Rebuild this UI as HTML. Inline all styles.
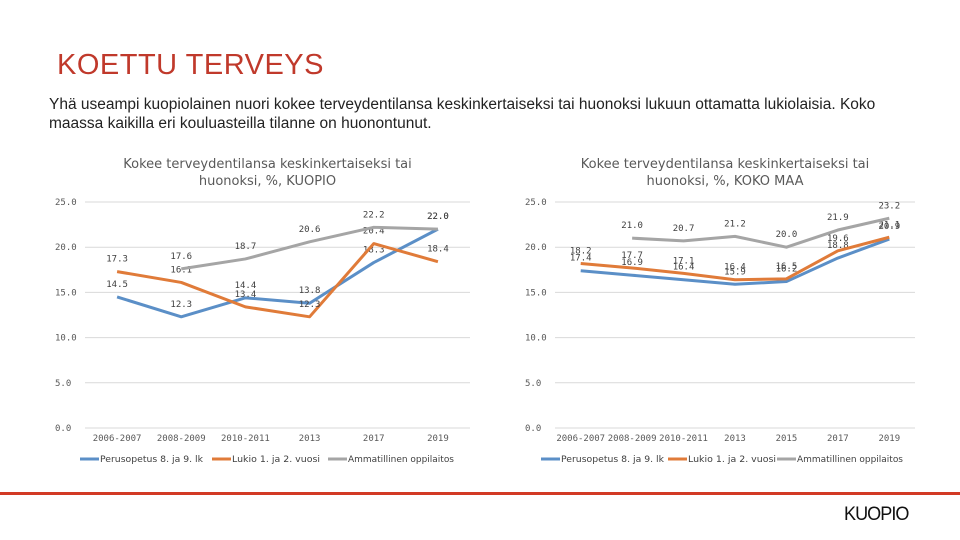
<!DOCTYPE html>
<html><head><meta charset="utf-8"><style>
body{margin:0;width:960px;height:540px;background:#fff;overflow:hidden;position:relative;font-family:"Liberation Sans",sans-serif}
#title{position:absolute;left:57px;top:49px;font-size:29px;color:#c0392b;letter-spacing:0.5px}
#sub{position:absolute;left:49px;top:95px;width:880px;font-size:15.5px;line-height:19px;color:#222}
#redline{position:absolute;left:0;top:492px;width:960px;height:3px;background:#d23a25}
#logo{position:absolute;left:844px;top:504px;font-size:19px;color:#111;letter-spacing:-1px;transform:scaleX(0.95);transform-origin:left}
svg{position:absolute;left:0;top:0}
</style></head><body>
<div id="title">KOETTU TERVEYS</div>
<div id="sub">Yhä useampi kuopiolainen nuori kokee terveydentilansa keskinkertaiseksi tai huonoksi lukuun ottamatta lukiolaisia. Koko maassa kaikilla eri kouluasteilla tilanne on huonontunut.</div>
<div id="redline"></div>
<div id="logo">KUOPIO</div>
<svg id="chart" width="960" height="540"></svg>
<script>
const catsL=["2006-2007","2008-2009","2010-2011","2013","2017","2019"];
const bluL=[14.5,12.3,14.4,13.8,18.3,22.0];
const oraL=[17.3,16.1,13.4,12.3,20.4,18.4];
const gryL=[null,17.6,18.7,20.6,22.2,22.0];
const catsR=["2006-2007","2008-2009","2010-2011","2013","2015","2017","2019"];
const bluR=[17.4,16.9,16.4,15.9,16.2,18.8,20.9];
const oraR=[18.2,17.7,17.1,16.4,16.5,19.6,21.1];
const gryR=[null,21.0,20.7,21.2,20.0,21.9,23.2];
const yTicks=[0,5,10,15,20,25];
const legendNames=["Perusopetus 8. ja 9. lk","Lukio 1. ja 2. vuosi","Ammatillinen oppilaitos"];
const colors=["#5b8fc7","#e07b39","#a5a5a5"];
const svg=document.getElementById('chart');
const NS="http://www.w3.org/2000/svg";
function mk(t,a,txt){const e=document.createElementNS(NS,t);for(const k in a)e.setAttribute(k,a[k]);if(txt!=null)e.textContent=txt;svg.appendChild(e);return e;}
function chart(opt){
 const {x0,x1,title,cats,series,name,lx}=opt;
 const y=v=>428-v*(226/25);
 const step=(x1-x0)/cats.length;
 const x=i=>x0+step*(i+0.5);
 let t=mk('text',{x:(x0+x1)/2-10,y:168,'text-anchor':'middle','font-size':13,fill:'#595959','font-family':'DejaVu Sans,sans-serif'},null);
 
 
 title.forEach((l,i)=>{const s=document.createElementNS(NS,'tspan');s.setAttribute('x',(x0+x1)/2-10);s.setAttribute('dy',i?17:0);s.textContent=l;t.appendChild(s);});
 yTicks.forEach(v=>{
  const g=mk('line',{x1:x0,x2:x1,y1:y(v),y2:y(v),stroke:'#d9d9d9','stroke-width':1});
  
  
  const l=mk('text',{x:x0-30,y:y(v)+3,'font-size':9,fill:'#595959','font-family':'DejaVu Sans Mono,monospace'},v.toFixed(1));
  
  
 });
 cats.forEach((c,i)=>{
  const l=mk('text',{x:x(i),y:441,'text-anchor':'middle','font-size':9,fill:'#595959','font-family':'DejaVu Sans Mono,monospace'},c);
  
  
 });
 series.forEach((s,si)=>{
  let d='';s.forEach((v,i)=>{if(v==null)return;d+=(d?'L':'M')+x(i)+','+y(v);});
  const p=mk('path',{d:d,fill:'none',stroke:colors[si],'stroke-width':3,'stroke-linejoin':'round'});
  
  
  s.forEach((v,i)=>{if(v==null)return;
   const l=mk('text',{x:x(i),y:y(v)-10,'text-anchor':'middle','font-size':9,fill:'#404040','font-family':'DejaVu Sans Mono,monospace'},v.toFixed(1));
   
   
  });
 });
 const lw=[103,88,106];
 legendNames.forEach((n,i)=>{
  const r=mk('line',{x1:lx[i],x2:lx[i]+19,y1:459,y2:459,stroke:colors[i],'stroke-width':3});
  
  
  const l=mk('text',{x:lx[i]+20,y:462,'font-size':8.5,fill:'#404040','font-family':'DejaVu Sans,sans-serif',textLength:lw[i],lengthAdjust:'spacingAndGlyphs'},n);
  
  
 });
}
chart({x0:85,x1:470,name:'kuopio-chart',lx:[80,212,328],title:["Kokee terveydentilansa keskinkertaiseksi tai","huonoksi, %, KUOPIO"],cats:catsL,series:[bluL,oraL,gryL]});
chart({x0:555,x1:915,name:'koko-maa-chart',lx:[541,668,777],title:["Kokee terveydentilansa keskinkertaiseksi tai","huonoksi, %, KOKO MAA"],cats:catsR,series:[bluR,oraR,gryR]});
</script>
</body></html>
